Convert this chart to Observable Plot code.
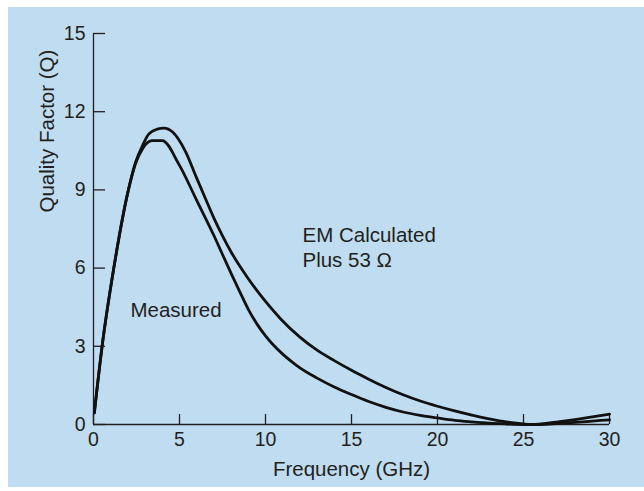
<!DOCTYPE html>
<html><head><meta charset="utf-8">
<script src="https://cdn.jsdelivr.net/npm/d3@7"></script>
<script src="https://cdn.jsdelivr.net/npm/@observablehq/plot@0.6"></script>
<style>
html,body{margin:0;padding:0;background:#fff;overflow:hidden;}
#chart{position:absolute;left:8px;top:7px;}
</style></head><body><div id="chart"></div>
<script>
// Measured Q vs frequency (GHz)
const measuredFreq = [0.05, 0.5, 1.18, 2.03, 2.44, 2.87, 3.4, 4.0, 4.96, 6.0, 7.0, 7.5, 8.0, 8.5, 9.0, 9.5, 10.0, 10.5, 11.0, 11.5, 12.0, 13.0, 14.0, 15.0, 16.0, 17.0, 18.0, 19.0, 20.0, 21.0, 22.0, 23.0, 24.0, 25.0, 26.0, 27.0, 28.0, 29.0, 30.0];
const measuredQ    = [0.45, 3.0, 6.0, 9.0, 10.0, 10.6, 10.89, 10.89, 9.99, 8.6, 7.25, 6.52, 5.8, 5.1, 4.42, 3.86, 3.4, 3.02, 2.7, 2.42, 2.17, 1.78, 1.44, 1.15, 0.88, 0.66, 0.48, 0.35, 0.25, 0.16, 0.1, 0.05, 0.02, 0.0, 0.0, 0.04, 0.08, 0.13, 0.18];
// EM calculated plus 53 ohm
const emFreq = [0.05, 0.5, 1.18, 2.03, 2.44, 2.85, 3.21, 3.7, 4.1, 4.6, 5.35, 6.0, 6.5, 7.0, 7.5, 8.0, 8.94, 10.0, 10.87, 12.0, 13.0, 14.0, 15.0, 16.0, 17.0, 18.0, 19.0, 20.0, 21.0, 22.0, 23.0, 24.0, 25.0, 25.5, 26.0, 27.0, 28.0, 29.0, 30.0];
const emQ    = [0.45, 3.0, 6.0, 9.0, 10.05, 10.7, 11.14, 11.33, 11.37, 11.22, 10.47, 9.45, 8.68, 7.92, 7.24, 6.62, 5.65, 4.72, 4.06, 3.35, 2.85, 2.45, 2.08, 1.74, 1.42, 1.14, 0.9, 0.7, 0.52, 0.36, 0.22, 0.1, 0.02, 0.0, 0.02, 0.1, 0.19, 0.29, 0.4];

const xTicks = [0, 5, 10, 15, 20, 25, 30];
const yTicks = [0, 3, 6, 9, 12, 15];
const xTitle = "Frequency (GHz)";
const yTitle = "Quality Factor (Q)";
const annoText = ["Measured", "EM Calculated\nPlus 53 Ω"];
const annoX = [2.15, 12.15];
const annoY = [4.14, 6.06];

const measured = measuredFreq.map((f, i) => ({f, q: measuredQ[i]}));
const em = emFreq.map((f, i) => ({f, q: emQ[i]}));
const annos = annoText.map((t, i) => ({t, f: annoX[i], q: annoY[i]}));

const font = "'Liberation Sans', Arial, Helvetica, sans-serif";
const ink = "#231f20";

const plot = Plot.plot({
  width: 636, height: 480,
  marginLeft: 85, marginRight: 35, marginTop: 26, marginBottom: 63,
  style: {background: "#bfdcf1", fontFamily: font, color: ink, overflow: "visible"},
  x: {domain: [0, 30]},
  y: {domain: [0, 15]},
  marks: [
    Plot.axisX(xTicks, {tickSize: 0, tickPadding: 8, label: null, fill: ink, fontSize: 19.5}),
    Plot.axisY(yTicks, {tickSize: 0, tickPadding: 8, label: null, fill: ink, fontSize: 19.5}),
    Plot.ruleX([0], {stroke: ink, strokeWidth: 1.3}),
    Plot.ruleY([0], {stroke: ink, strokeWidth: 1.3}),
    Plot.ruleX(xTicks, {x: d => d, y1: () => 0, y2: () => 0, insetBottom: 10, stroke: ink, strokeWidth: 1.3}),
    Plot.ruleY(yTicks, {y: d => d, x1: () => 0, x2: () => 0, insetRight: -12, stroke: ink, strokeWidth: 1.3}),
    Plot.line(em, {x: "f", y: "q", curve: "monotone-x", stroke: "#111", strokeWidth: 2.8}),
    Plot.line(measured, {x: "f", y: "q", curve: "monotone-x", stroke: "#111", strokeWidth: 2.8}),
    Plot.text(annos, {x: "f", y: "q", text: "t", textAnchor: "start", lineAnchor: "bottom", lineHeight: 1.19, fontSize: 20.5, fill: ink}),
    Plot.text([xTitle], {text: d => d, frameAnchor: "bottom", lineAnchor: "bottom", dy: 51, fontSize: 20.5, fill: ink}),
    Plot.text([yTitle], {text: d => d, frameAnchor: "left", rotate: -90, dx: -46.5, dy: -16.5, fontSize: 20.5, fill: ink})
  ]
});
document.getElementById("chart").appendChild(plot);
</script>
</body></html>
